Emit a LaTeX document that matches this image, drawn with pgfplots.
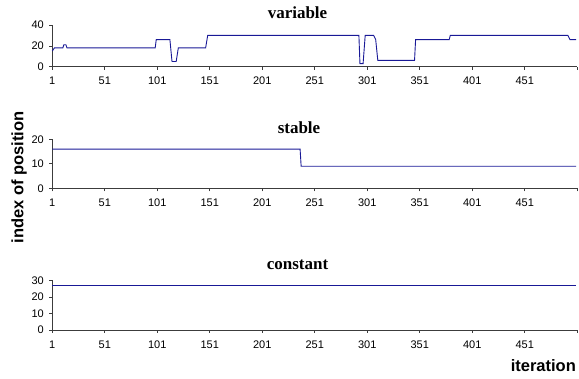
\documentclass[border=0pt]{standalone}
\usepackage{pgfplots}
\pgfplotsset{compat=1.18}
\usepackage{fontspec}
\setmainfont{Liberation Serif}
\setsansfont{Liberation Sans}
\definecolor{linec}{RGB}{25,25,150}
\definecolor{axc}{RGB}{60,60,60}

\pgfplotstableread{
x y
1 15
3 18
11 18
12 21
14 21
15 18
99 18
100 26
113 26
115 5
119 5
121 18
147 18
149 30
293 30
294 3
297 3
299 30
307 30
309 26
311 6
346 6
347 26
379 26
380 30
492 30
494 26
500 26
}\variable

\pgfplotstableread{
x y
1 16
237 16
238 9
500 9
}\stable

\pgfplotstableread{
x y
1 27
500 27
}\constant

\pgfplotsset{
  panel/.style={
    anchor=origin,
    scale only axis,
    width=525pt,
    xmin=1, xmax=501,
    ymin=0,
    axis x line*=bottom,
    axis y line*=left,
    axis line style={axc, line width=0.6pt},
    tick style={axc, line width=0.6pt},
    tick align=outside,
    major tick length=3pt,
    xtick={1,51,101,151,201,251,301,351,401,451,501},
    xticklabels={1,51,101,151,201,251,301,351,401,451,},
    ticklabel style={font=\sffamily\fontsize{11}{12}\selectfont},
    xticklabel style={yshift=-4pt},
    yticklabel style={xshift=-2pt},
    /pgf/number format/assume math mode=true,
    clip=false,
  },
  dataline/.style={linec, line width=0.9pt, no marks},
}

\begin{document}
\begin{tikzpicture}[x=1pt,y=1pt]
\useasboundingbox (0,0) rectangle (579,379);

\begin{axis}[panel, at={(52.3pt,312.3pt)}, height=41.7pt, ymax=40, ytick={0,20,40}]
\addplot[dataline] table[x=x,y=y] {\variable};
\end{axis}

\begin{axis}[panel, at={(52.3pt,190.7pt)}, height=49pt, ymax=20, ytick={0,10,20}]
\addplot[dataline] table[x=x,y=y] {\stable};
\end{axis}

\begin{axis}[panel, at={(52.3pt,49pt)}, height=49.7pt, ymax=30, ytick={0,10,20,30}]
\addplot[dataline] table[x=x,y=y] {\constant};
\end{axis}

\node[font=\bfseries\fontsize{17}{19}\selectfont, anchor=base] at (297.5,360.7) {variable};
\node[font=\bfseries\fontsize{17}{19}\selectfont, anchor=base] at (299,245.7) {stable};
\node[font=\bfseries\fontsize{17}{19}\selectfont, anchor=base] at (297.5,109) {constant};

\node[font=\sffamily\bfseries\fontsize{16.5}{18}\selectfont, rotate=90] at (19,201.5) {index of position};
\node[font=\sffamily\bfseries\fontsize{16.5}{18}\selectfont, anchor=base] at (543.3,7.3) {iteration};
\end{tikzpicture}
\end{document}
